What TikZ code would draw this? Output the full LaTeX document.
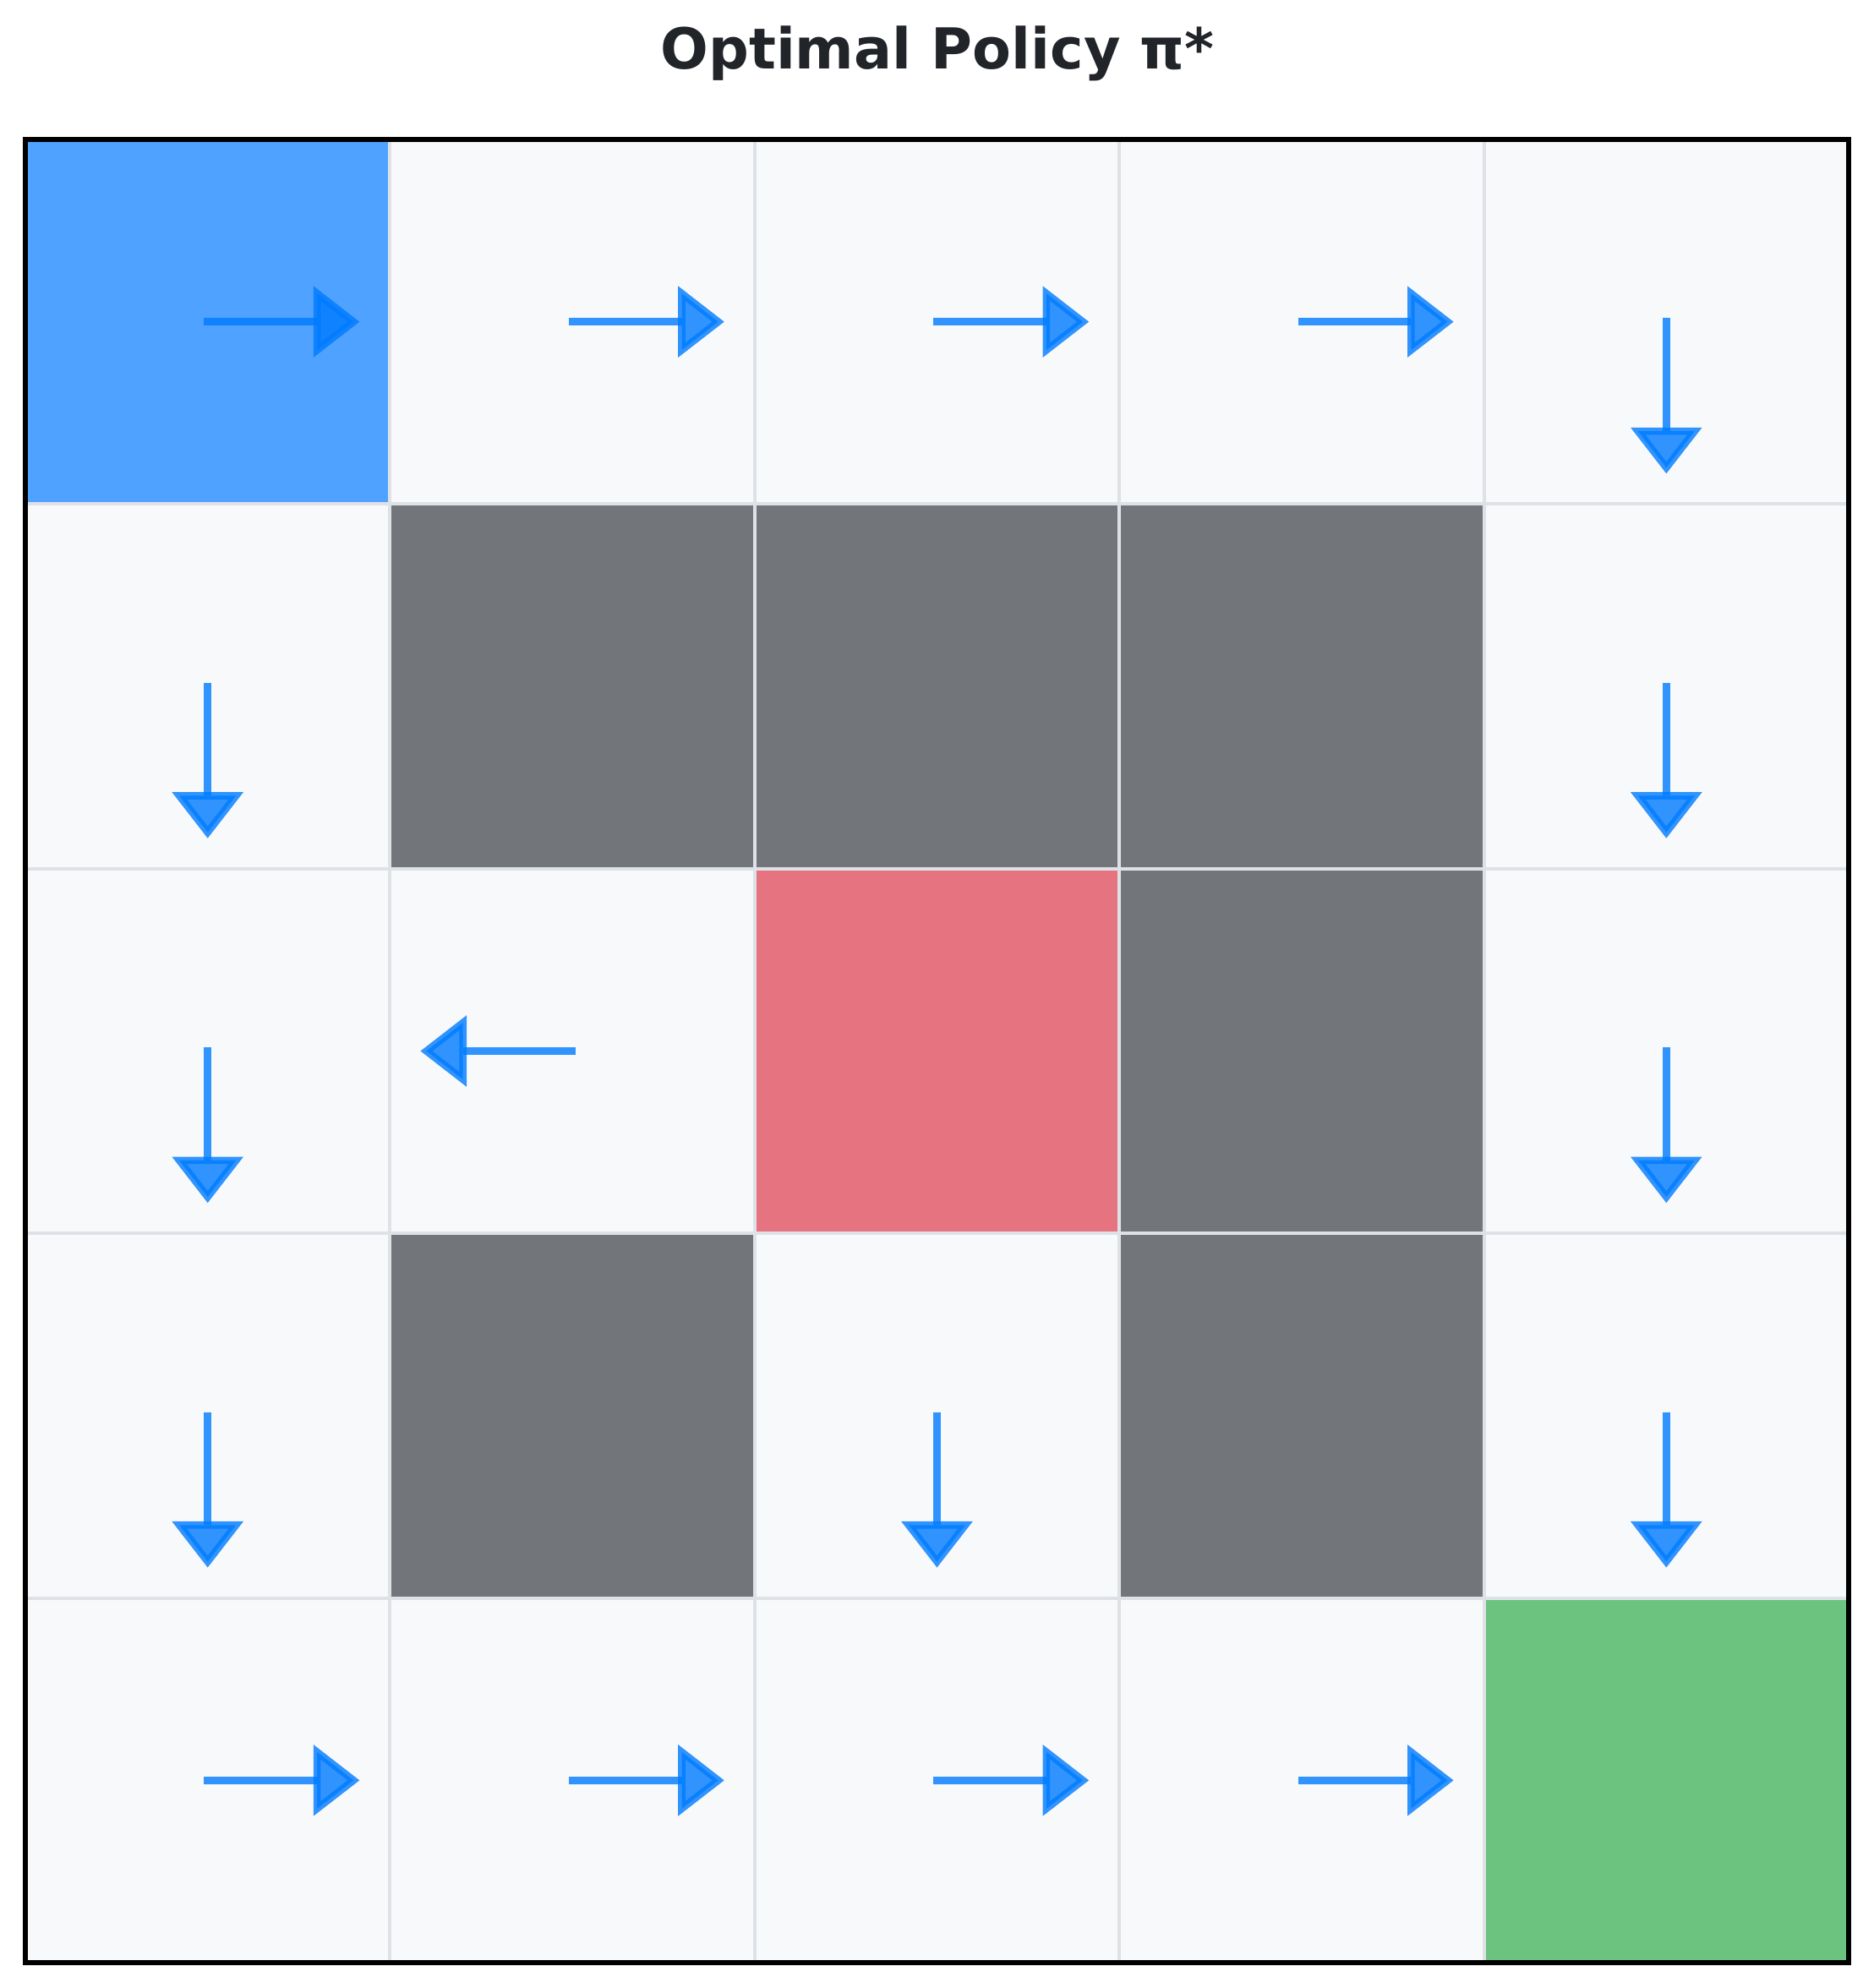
\documentclass[tikz,border=0pt]{standalone}
\usepackage{fontspec}
\setmainfont{DejaVu Sans}

\definecolor{cellbg}{HTML}{F8F9FA}
\definecolor{gridline}{HTML}{DEE2E6}
\definecolor{wallgray}{HTML}{72757A}
\definecolor{startblue}{HTML}{4FA2FF}
\definecolor{trapred}{HTML}{E57380}
\definecolor{goalgreen}{HTML}{6BC37F}
\definecolor{policyblue}{HTML}{007BFF}
\definecolor{titlegray}{HTML}{212529}

\begin{document}
\begin{tikzpicture}[
    cell/.style={rectangle, draw=gridline, line width=1.15pt, fill=cellbg, minimum size=4.314cm, inner sep=0pt, outer sep=0pt},
    wallcell/.style={cell, fill=wallgray},
    startcell/.style={cell, fill=startblue},
    trapcell/.style={cell, fill=trapred},
    goalcell/.style={cell, fill=goalgreen},
    frame/.style={draw=black, line width=1.7pt},
    shaft/.style={draw=policyblue, opacity=0.8, line width=2.45pt},
    head/.style={draw=policyblue, fill=policyblue, opacity=0.8, line width=2.45pt},
    policyarrow/.pic={
        \draw[shaft] (-0.043,0) -- (1.294,0);
        \filldraw[head] (1.294,0.335) -- (1.726,0) -- (1.294,-0.335) -- cycle;
    },
    title/.style={font=\fontsize{19}{23}\selectfont\bfseries, text=titlegray, anchor=base}
]
\useasboundingbox (0,0) rectangle (22.16,23.52);

% Title
\node[title] (title) at (11.09,22.70) {Optimal Policy π*};

% Row 0
\node[startcell] (c00) at (2.457,19.713) {};
\node[cell]      (c01) at (6.771,19.713) {};
\node[cell]      (c02) at (11.085,19.713) {};
\node[cell]      (c03) at (15.399,19.713) {};
\node[cell]      (c04) at (19.713,19.713) {};
% Row 1
\node[cell]      (c10) at (2.457,15.399) {};
\node[wallcell]  (c11) at (6.771,15.399) {};
\node[wallcell]  (c12) at (11.085,15.399) {};
\node[wallcell]  (c13) at (15.399,15.399) {};
\node[cell]      (c14) at (19.713,15.399) {};
% Row 2
\node[cell]      (c20) at (2.457,11.085) {};
\node[cell]      (c21) at (6.771,11.085) {};
\node[trapcell]  (c22) at (11.085,11.085) {};
\node[wallcell]  (c23) at (15.399,11.085) {};
\node[cell]      (c24) at (19.713,11.085) {};
% Row 3
\node[cell]      (c30) at (2.457,6.771) {};
\node[wallcell]  (c31) at (6.771,6.771) {};
\node[cell]      (c32) at (11.085,6.771) {};
\node[wallcell]  (c33) at (15.399,6.771) {};
\node[cell]      (c34) at (19.713,6.771) {};
% Row 4
\node[cell]      (c40) at (2.457,2.457) {};
\node[cell]      (c41) at (6.771,2.457) {};
\node[cell]      (c42) at (11.085,2.457) {};
\node[cell]      (c43) at (15.399,2.457) {};
\node[goalcell]  (c44) at (19.713,2.457) {};

% Outer frame
\draw[frame] (c00.north west) rectangle (c44.south east);

% Policy arrows
\pic at (c00.center) {policyarrow};
\pic at (c01.center) {policyarrow};
\pic at (c02.center) {policyarrow};
\pic at (c03.center) {policyarrow};
\pic[rotate=-90] at (c04.center) {policyarrow};

\pic[rotate=-90] at (c10.center) {policyarrow};
\pic[rotate=-90] at (c14.center) {policyarrow};

\pic[rotate=-90] at (c20.center) {policyarrow};
\pic[rotate=180] at (c21.center) {policyarrow};
\pic[rotate=-90] at (c24.center) {policyarrow};

\pic[rotate=-90] at (c30.center) {policyarrow};
\pic[rotate=-90] at (c32.center) {policyarrow};
\pic[rotate=-90] at (c34.center) {policyarrow};

\pic at (c40.center) {policyarrow};
\pic at (c41.center) {policyarrow};
\pic at (c42.center) {policyarrow};
\pic at (c43.center) {policyarrow};

\end{tikzpicture}
\end{document}
